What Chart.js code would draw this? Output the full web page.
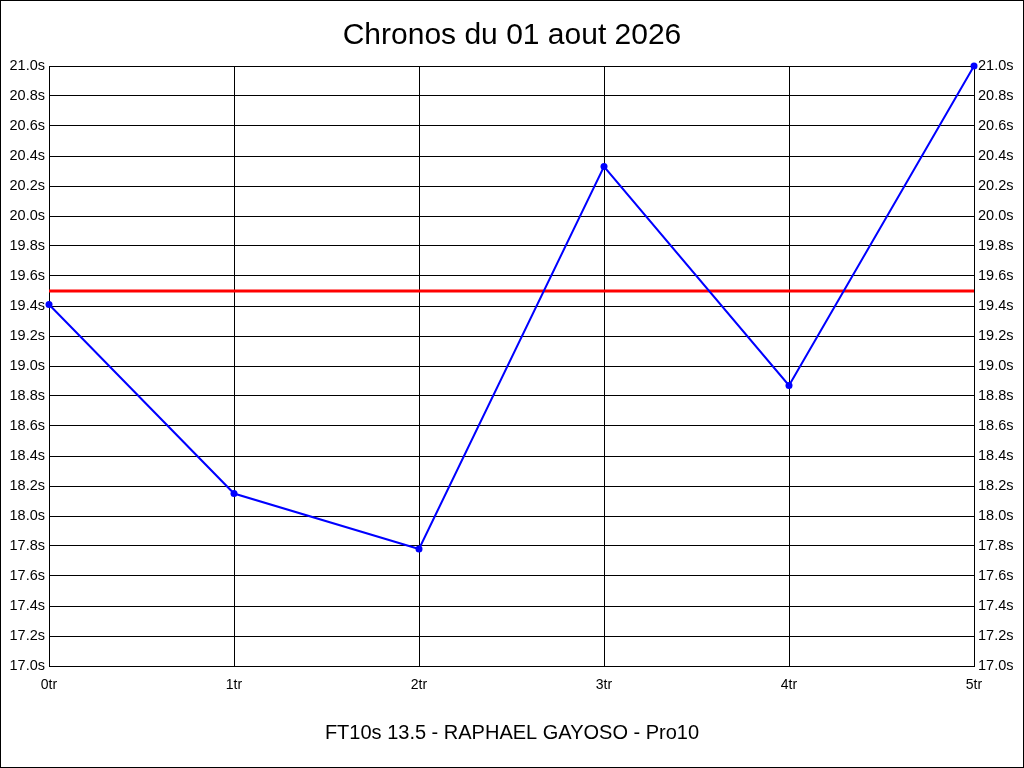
<!DOCTYPE html>
<html>
<head>
<meta charset="utf-8">
<script src="https://cdn.jsdelivr.net/npm/chart.js@4"></script>
<style>
  html, body { margin: 0; padding: 0; background: #fff; }
  #wrap { width: 1024px; height: 768px; }
</style>
</head>
<body>
<div id="wrap"><canvas id="chronos" width="1024" height="768"></canvas></div>
<script>
// tours
var laps = ['0tr', '1tr', '2tr', '3tr', '4tr', '5tr'];
// chronos en secondes
var times = [19.41, 18.15, 17.78, 20.33, 18.87, 21.0];
// ligne de reference
var target = [19.5, 19.5, 19.5, 19.5, 19.5, 19.5];

var yMin = 17.0, yMax = 21.0, yStep = 0.2;

var FONT = '"Liberation Sans", Arial, sans-serif';

// fond blanc + cadre noir
var frame = {
  id: 'frame',
  beforeDraw: function(chart) {
    var c = chart.ctx;
    c.save();
    c.fillStyle = '#fff';
    c.fillRect(0, 0, chart.width, chart.height);
    c.restore();
  },
  afterDraw: function(chart) {
    var c = chart.ctx;
    c.save();
    c.strokeStyle = '#000';
    c.lineWidth = 1;
    c.strokeRect(0.5, 0.5, chart.width - 1, chart.height - 1);
    c.restore();
  }
};

var fmt = function(v) { return Number(v).toFixed(1) + 's'; };

new Chart(document.getElementById('chronos'), {
  type: 'line',
  data: {
    labels: laps,
    datasets: [
      {
        label: 'Chronos',
        data: times,
        borderColor: '#0000ff',
        backgroundColor: '#0000ff',
        borderWidth: 2,
        pointRadius: 3.5,
        pointBackgroundColor: '#0000ff',
        pointBorderWidth: 0,
        tension: 0,
        clip: false,
        yAxisID: 'y',
        order: 1
      },
      {
        label: 'Objectif',
        data: target,
        borderColor: '#ff0000',
        borderWidth: 3,
        pointRadius: 0,
        tension: 0,
        yAxisID: 'y',
        order: 2
      }
    ]
  },
  options: {
    responsive: false,
    animation: false,
    layout: { padding: 0 },
    plugins: {
      legend: { display: false },
      tooltip: { enabled: false },
      title: {
        display: true,
        text: 'Chronos du 01 aout 2026',
        color: '#000',
        font: { family: FONT, size: 30, weight: 'normal' },
        padding: { top: 18, bottom: 12 }
      },
      subtitle: {
        display: true,
        position: 'bottom',
        text: 'FT10s 13.5 - RAPHAEL GAYOSO - Pro10',
        color: '#000',
        font: { family: FONT, size: 20, weight: 'normal' },
        padding: { top: 0, bottom: 23 }
      }
    },
    scales: {
      x: {
        offset: false,
        grid: { color: '#000', lineWidth: 1, drawTicks: false },
        border: { color: '#000' },
        ticks: { color: '#000', font: { family: FONT, size: 14 }, padding: 11, maxRotation: 0 },
        afterFit: function(s) { s.height = 55; }
      },
      y: {
        position: 'left',
        min: yMin, max: yMax,
        grid: { color: '#000', lineWidth: 1, drawTicks: false },
        border: { color: '#000' },
        ticks: { stepSize: yStep, color: '#000', font: { family: FONT, size: 14.5 }, padding: 4, callback: fmt },
        afterFit: function(s) { s.width = 49; }
      },
      y2: {
        position: 'right',
        min: yMin, max: yMax,
        grid: { display: false, drawTicks: false },
        border: { color: '#000' },
        ticks: { stepSize: yStep, color: '#000', font: { family: FONT, size: 14.5 }, padding: 4, callback: fmt },
        afterFit: function(s) { s.width = 50; }
      }
    }
  },
  plugins: [frame]
});
</script>
</body>
</html>
